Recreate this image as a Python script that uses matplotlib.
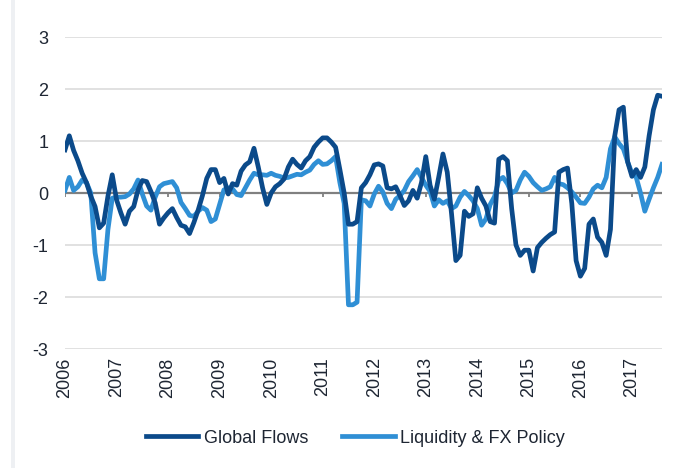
import matplotlib
matplotlib.use('Agg')
import matplotlib.pyplot as plt
import matplotlib.patches as mpatches
import numpy as np

matplotlib.rc('font', family='Liberation Sans', size=13)

# monthly index values, Jan 2006 .. Aug 2017
start_year = 2006
global_flows = [
    0.83, 1.10, 0.82, 0.62, 0.38, 0.20, -0.06, -0.26, -0.67, -0.58, -0.06, 0.35,
    -0.13, -0.38, -0.60, -0.35, -0.26, 0.06, 0.24, 0.22, 0.03, -0.19, -0.60, -0.48,
    -0.38, -0.30, -0.47, -0.62, -0.65, -0.78, -0.57, -0.33, -0.05, 0.28, 0.45, 0.45,
    0.20, 0.28, -0.02, 0.18, 0.15, 0.42, 0.54, 0.60, 0.86, 0.50, 0.10, -0.22,
    0.00, 0.12, 0.18, 0.27, 0.50, 0.65, 0.55, 0.48, 0.62, 0.70, 0.88, 0.98,
    1.06, 1.06, 0.98, 0.88, 0.45, 0.00, -0.60, -0.60, -0.55, 0.10, 0.20, 0.35,
    0.54, 0.56, 0.52, 0.10, 0.08, 0.12, -0.05, -0.24, -0.15, 0.05, -0.10, 0.20,
    0.70, 0.15, -0.12, 0.30, 0.75, 0.40, -0.40, -1.30, -1.20, -0.35, -0.45, -0.40,
    0.10, -0.10, -0.25, -0.55, -0.58, 0.65, 0.70, 0.62, -0.30, -1.00, -1.20, -1.10,
    -1.10, -1.50, -1.05, -0.95, -0.87, -0.80, -0.75, 0.40, 0.45, 0.48, -0.20, -1.30,
    -1.60, -1.45, -0.60, -0.50, -0.85, -0.95, -1.20, -0.70, 1.10, 1.60, 1.65, 0.60,
    0.32, 0.45, 0.30, 0.50, 1.10, 1.60, 1.88, 1.86,
]
liquidity_fx = [
    0.05, 0.30, 0.05, 0.12, 0.25, 0.20, 0.00, -1.15, -1.65, -1.65, -0.70, -0.10,
    -0.08, -0.08, -0.07, -0.02, 0.08, 0.25, -0.02, -0.25, -0.33, -0.08, 0.12, 0.18,
    0.20, 0.22, 0.10, -0.18, -0.30, -0.43, -0.45, -0.35, -0.28, -0.33, -0.55, -0.50,
    -0.22, 0.06, 0.10, 0.08, -0.03, -0.05, 0.10, 0.25, 0.38, 0.35, 0.35, 0.34,
    0.38, 0.34, 0.32, 0.29, 0.30, 0.33, 0.36, 0.35, 0.40, 0.44, 0.55, 0.62,
    0.55, 0.56, 0.62, 0.70, 0.20, -0.20, -2.15, -2.15, -2.10, -0.13, -0.15, -0.25,
    -0.02, 0.13, 0.02, -0.20, -0.30, -0.12, -0.05, 0.05, 0.22, 0.33, 0.45, 0.30,
    0.15, 0.03, -0.25, -0.13, -0.20, -0.15, -0.30, -0.25, -0.08, 0.03, -0.05, -0.15,
    -0.30, -0.62, -0.50, -0.22, -0.07, 0.25, 0.30, 0.18, 0.00, 0.05, 0.25, 0.40,
    0.32, 0.20, 0.12, 0.05, 0.08, 0.12, 0.30, 0.18, 0.16, 0.10, 0.02, -0.08,
    -0.19, -0.20, -0.08, 0.08, 0.15, 0.10, 0.30, 0.85, 1.08, 0.95, 0.85, 0.60,
    0.38, 0.30, 0.00, -0.35, -0.12, 0.10, 0.30, 0.55,
]
year_labels = [str(y) for y in range(2006, 2018)]
y_ticks = [-3, -2, -1, 0, 1, 2, 3]

dark_blue = '#0B4A8A'
light_blue = '#2F8FD5'
text_color = '#1E2633'


def plot_chart(fig_name):
    fig = plt.figure(figsize=(6.94, 4.68), dpi=100)
    ax = fig.add_axes([65 / 694, 1 - 349 / 468, 597 / 694, 312 / 468])

    x = start_year + np.arange(len(global_flows)) / 12.0
    ax.plot(x, global_flows, color=dark_blue, lw=3.4, label='Global Flows',
            solid_joinstyle='round', zorder=4)
    ax.plot(x, liquidity_fx, color=light_blue, lw=3.4, label='Liquidity & FX Policy',
            solid_joinstyle='round', zorder=3)

    ax.set_xlim(x[0], x[-1])
    ax.set_ylim(-3, 3)
    ax.set_yticks(y_ticks)
    ax.set_yticklabels([str(v) for v in y_ticks])
    years = np.arange(2006, 2018)
    ax.set_xticks(years)
    ax.set_xticklabels(year_labels, rotation=90, va='top', ha='center')

    ax.tick_params(axis='y', length=0, pad=12, colors=text_color, labelsize=13)
    ax.tick_params(axis='x', length=0, pad=6, colors=text_color, labelsize=13)
    for s in ax.spines.values():
        s.set_visible(False)

    ax.grid(axis='y', color='#D9D9D9', lw=1.1)
    ax.set_axisbelow(True)

    # zero axis with small year ticks
    ax.axhline(0, color='#808080', lw=1.6, zorder=2)
    ax.vlines(years, -0.07, 0, color='#808080', lw=1.3, zorder=2)

    ax.legend(loc='center', bbox_to_anchor=(0.512, 0.064), bbox_transform=fig.transFigure,
              ncol=2, frameon=False, handlelength=2.9, handletextpad=0.3,
              columnspacing=1.9, fontsize=13, labelcolor=text_color)

    # faint strip at the left edge
    fig.patches.append(mpatches.Rectangle((11 / 694, 0), 4 / 694, 1,
                                          transform=fig.transFigure,
                                          facecolor='#EEF0F3', edgecolor='none'))

    plt.savefig(fig_name, format='png', dpi=100)


if __name__ == '__main__':
    plot_chart('out.png')
